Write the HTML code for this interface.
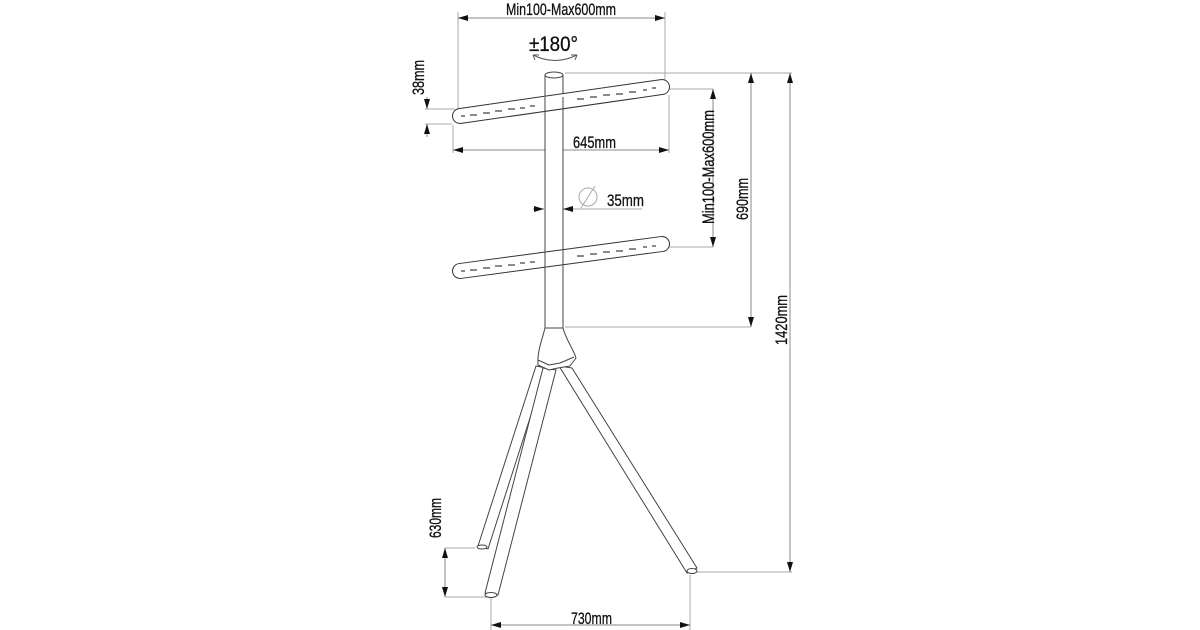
<!DOCTYPE html>
<html><head><meta charset="utf-8"><style>
html,body{margin:0;padding:0;background:#fff;}
svg{display:block;}
text{font-family:"Liberation Sans Narrow","Liberation Sans",sans-serif;fill:#111;stroke:#111;stroke-width:0.3;}
</style></head><body>
<svg width="1200" height="630" viewBox="0 0 1200 630" xmlns="http://www.w3.org/2000/svg">
<defs>
<marker id="ar" viewBox="0 0 10 6" refX="10" refY="3" markerWidth="10" markerHeight="6" orient="auto-start-reverse" markerUnits="userSpaceOnUse">
<path d="M0,0 L10,3 L0,6 z" fill="#111"/></marker>
</defs>
<g stroke="#aaa" stroke-width="1" fill="none">
<line x1="458" y1="12" x2="458" y2="110"/>
<line x1="665" y1="12" x2="665" y2="82"/>
<line x1="565" y1="73" x2="792" y2="73"/>
<line x1="668" y1="89" x2="713" y2="89"/>
<line x1="668" y1="247" x2="713" y2="247"/>
<line x1="565" y1="327" x2="751" y2="327"/>
<line x1="692" y1="572" x2="792" y2="572"/>
<line x1="425" y1="109" x2="455" y2="109"/>
<line x1="425" y1="124" x2="452" y2="124"/>
<line x1="453" y1="125" x2="453" y2="153"/>
<line x1="669" y1="95" x2="669" y2="153"/>
<line x1="445" y1="548" x2="475" y2="548"/>
<line x1="445" y1="597" x2="490" y2="597"/>
<line x1="491" y1="598" x2="491" y2="630"/>
<line x1="690" y1="575" x2="690" y2="630"/>
<line x1="575" y1="209" x2="642" y2="209"/>
</g>
<g stroke="#888" stroke-width="1" fill="none">
<line x1="458" y1="18" x2="665" y2="18" marker-start="url(#ar)" marker-end="url(#ar)"/>
<line x1="453" y1="150" x2="669" y2="150" marker-start="url(#ar)" marker-end="url(#ar)"/>
<line x1="713" y1="89" x2="713" y2="247" marker-start="url(#ar)" marker-end="url(#ar)"/>
<line x1="751" y1="73" x2="751" y2="327" marker-start="url(#ar)" marker-end="url(#ar)"/>
<line x1="790" y1="73" x2="790" y2="572" marker-start="url(#ar)" marker-end="url(#ar)"/>
<line x1="491" y1="625" x2="690" y2="625" marker-start="url(#ar)" marker-end="url(#ar)"/>
<line x1="427" y1="97" x2="427" y2="109" marker-end="url(#ar)"/>
<line x1="427" y1="137" x2="427" y2="124" marker-end="url(#ar)"/>
<line x1="445" y1="548" x2="445" y2="597" marker-start="url(#ar)" marker-end="url(#ar)"/>
<line x1="533" y1="209" x2="544" y2="209" marker-end="url(#ar)"/>
<line x1="575" y1="209" x2="563" y2="209" marker-end="url(#ar)"/>
</g>
<rect x="545" y="75" width="18" height="253" fill="#fff" stroke="#444" stroke-width="1"/>
<ellipse cx="554" cy="75" rx="9" ry="3" fill="#fff" stroke="#444"/>
<g stroke-linecap="round">
<line x1="460" y1="116" x2="662" y2="87" stroke="#333" stroke-width="16"/>
<line x1="460" y1="116" x2="662" y2="87" stroke="#fff" stroke-width="14"/>
<line x1="460" y1="271" x2="662" y2="244" stroke="#333" stroke-width="16"/>
<line x1="460" y1="271" x2="662" y2="244" stroke="#fff" stroke-width="14"/>
</g>
<g stroke="#444" fill="none" stroke-width="1.2">
<path d="M461,116 h4 M470,115 h7 M483,113 h7 M495,111 h7 M508,109 h7 M520,108 h5 M530,106 h5 M577,99 h7 M590,97 h7 M603,95 h7 M616,94 h7 M629,92 h7 M643,90 h4 M652,88 h4"/>
<path d="M461,271 h4 M470,270 h7 M483,268 h7 M495,266 h7 M508,265 h7 M520,263 h5 M530,262 h5 M577,256 h7 M590,254 h7 M603,252 h7 M616,251 h7 M629,249 h7 M643,247 h4 M652,246 h4"/>
</g>
<line x1="545" y1="97" x2="545" y2="328" stroke="#444"/>
<line x1="563" y1="97" x2="563" y2="328" stroke="#444"/>
<g stroke="#444" stroke-width="1" fill="#fff" stroke-linejoin="round">
<polygon points="536,366 546,368 488,549 478,546"/>
<polygon points="559,366 572,368 697,568 687,573"/>
<polygon points="543,368 556,370 498,595 485,593"/>
<path d="M545,328 L563,328 C566,340 574,350 576,358 L570,366 L558,368 L549,370 L538,365 C537,352 542,340 545,328 Z"/>
<path d="M538,360 L549,365 L560,363 L574,357" fill="none"/>
<ellipse cx="491" cy="595" rx="6" ry="2.5"/>
<ellipse cx="482" cy="547" rx="5" ry="2"/>
<ellipse cx="692" cy="571" rx="5" ry="2.5"/>
</g>
<path d="M533,55 Q555,66 577,55" fill="none" stroke="#555"/>
<path d="M533,55 l6,0 M533,55 l2,5 M577,55 l-6,0 M577,55 l-2,5" stroke="#555" fill="none"/>
<circle cx="588" cy="197" r="9" fill="none" stroke="#aaa"/>
<line x1="581" y1="208" x2="595" y2="186" stroke="#aaa"/>
<text x="506" y="15" font-size="17" textLength="110" lengthAdjust="spacingAndGlyphs">Min100-Max600mm</text>
<text x="529" y="51" font-size="21" textLength="49" lengthAdjust="spacingAndGlyphs">±180°</text>
<text x="573" y="148" font-size="17" textLength="43" lengthAdjust="spacingAndGlyphs">645mm</text>
<text x="607" y="206" font-size="17" textLength="37" lengthAdjust="spacingAndGlyphs">35mm</text>
<text x="571" y="624" font-size="17" textLength="41" lengthAdjust="spacingAndGlyphs">730mm</text>
<text transform="translate(424,95) rotate(-90)" font-size="17" textLength="35" lengthAdjust="spacingAndGlyphs">38mm</text>
<text transform="translate(441,538) rotate(-90)" font-size="17" textLength="40" lengthAdjust="spacingAndGlyphs">630mm</text>
<text transform="translate(714,224) rotate(-90)" font-size="17" textLength="114" lengthAdjust="spacingAndGlyphs">Min100-Max600mm</text>
<text transform="translate(748,220) rotate(-90)" font-size="17" textLength="42" lengthAdjust="spacingAndGlyphs">690mm</text>
<text transform="translate(787,345) rotate(-90)" font-size="17" textLength="50" lengthAdjust="spacingAndGlyphs">1420mm</text>
</svg>
</body></html>
